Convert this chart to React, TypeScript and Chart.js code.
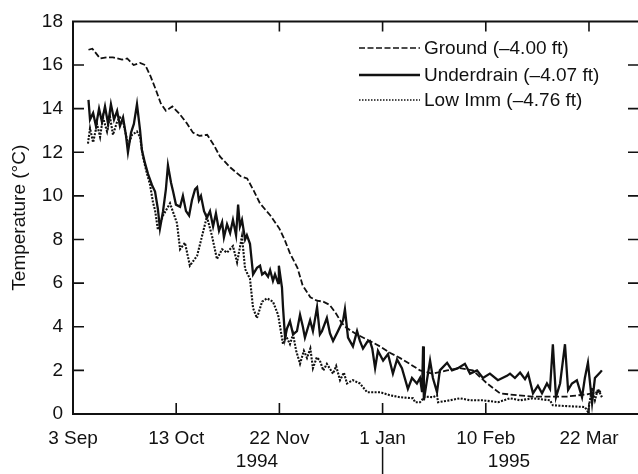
import React, { useEffect, useRef } from 'react';
import { Chart, registerables } from 'chart.js';

Chart.register(...registerables);

const tickDays = [0, 40, 80, 120, 160, 200];
const tickLabels = ['3 Sep', '13 Oct', '22 Nov', '1 Jan', '10 Feb', '22 Mar'];
const yearLabels = ['1994', '1995'];
const seriesNames = ['Ground (\u20134.00 ft)', 'Underdrain (\u20134.07 ft)', 'Low Imm (\u20134.76 ft)'];

const groundDays = [6, 7.5, 10.5, 13, 15.5, 19, 21, 23.5, 26, 28, 30, 32, 34, 36, 38.5, 41, 44, 46.5, 49, 52, 54.5, 57, 61, 65, 67.5, 70, 72.5, 76.5, 80, 82, 84, 87, 89, 92, 94.5, 97, 99.5, 102, 104, 106, 110, 115, 119, 123, 127, 130.5, 134.5, 139.5, 145, 150, 155, 160.5, 165.5, 172, 178, 186, 191.5, 199, 205];
const groundTemps = [16.7, 16.75, 16.3, 16.35, 16.35, 16.25, 16.3, 16.0, 16.1, 16.0, 15.5, 14.9, 14.25, 13.9, 14.1, 13.8, 13.35, 12.9, 12.75, 12.8, 12.35, 11.8, 11.3, 10.9, 10.8, 10.25, 9.65, 9.1, 8.5, 8.0, 7.4, 6.7, 5.9, 5.35, 5.2, 5.15, 5.0, 4.6, 4.2, 3.95, 3.65, 3.35, 3.1, 2.8, 2.55, 2.3, 2.0, 1.85, 2.0, 2.1, 2.0, 1.4, 0.95, 0.86, 0.8, 0.8, 0.8, 0.9, 1.05];

const underDays = [6, 6.6, 7.8, 8.9, 10.1, 11.2, 12.4, 13.6, 14.7, 15.9, 17.1, 18.2, 19.4, 20.5, 21.3, 22.5, 23.6, 24.8, 26, 26.7, 27.9, 29.1, 30.6, 31.8, 32.9, 33.7, 34.9, 36, 36.8, 38, 38.8, 39.9, 41.5, 42.6, 43.8, 45, 46.1, 47.3, 48.1, 48.8, 49.6, 50.8, 51.9, 53.1, 54.3, 55.4, 56.6, 57.8, 58.5, 59.7, 60.9, 62, 63.2, 64, 64.7, 65.5, 66.7, 67.4, 68.6, 69.8, 71.3, 72.5, 73.3, 74.4, 75.6, 76.4, 77.5, 78.3, 79.5, 79.8, 81, 81.4, 82.2, 82.9, 84.1, 85.3, 86.8, 88, 89.1, 89.9, 91.9, 93, 94.6, 95.7, 96.5, 98.4, 99.6, 100.8, 102.7, 104.7, 105.4, 106.6, 108.5, 110.1, 111.2, 112.4, 114, 115.1, 116, 117.1, 118.2, 120.2, 122.1, 124, 125.6, 127.5, 129.8, 131.4, 133.3, 134.5, 135.3, 135.7, 136, 137.2, 138.4, 139.5, 141.1, 142.2, 145, 146.9, 149.2, 151.9, 153.9, 156.6, 158.9, 161.6, 164.7, 168.2, 169.4, 171.3, 173.3, 175.2, 176.4, 178.3, 180.2, 181.8, 183.7, 184.9, 186, 187.2, 188.8, 190.7, 191.9, 193.4, 195.3, 197.3, 198.4, 199.6, 201.2, 202.3, 204.3, 205];
const underTemps = [14.4, 13.5, 13.8, 13.2, 14.0, 13.4, 14.1, 13.3, 14.2, 13.5, 13.9, 13.2, 13.6, 12.8, 12.0, 12.9, 13.3, 14.2, 13.0, 12.1, 11.5, 11.0, 10.5, 10.2, 9.4, 8.5, 9.3, 10.3, 11.4, 10.6, 10.2, 9.6, 9.5, 10.0, 9.3, 9.1, 9.8, 10.3, 10.4, 9.8, 10.0, 9.3, 9.0, 9.3, 8.6, 9.2, 8.4, 8.8, 8.1, 8.7, 8.3, 8.9, 8.2, 9.6, 8.6, 8.9, 8.0, 8.2, 7.8, 6.4, 6.7, 6.8, 6.4, 6.5, 6.3, 6.6, 6.1, 6.4, 6.0, 6.8, 5.8, 4.9, 3.5, 3.9, 4.25, 3.65, 3.8, 4.55, 4.0, 3.5, 4.3, 3.8, 4.9, 3.65, 3.8, 4.4, 3.7, 3.35, 3.8, 4.3, 4.8, 3.5, 3.1, 3.8, 3.35, 3.0, 3.3, 3.35, 3.0, 2.1, 2.9, 2.45, 2.75, 1.85, 2.5, 2.1, 1.15, 1.65, 1.4, 1.65, 1.0, 3.1, 0.63, 1.55, 2.45, 1.65, 1.0, 2.0, 2.35, 2.0, 2.1, 2.3, 1.85, 2.0, 1.65, 1.85, 1.55, 1.75, 1.85, 1.65, 1.9, 1.6, 1.85, 0.95, 1.3, 0.95, 1.4, 1.15, 3.2, 0.77, 1.4, 3.2, 1.1, 1.4, 1.55, 0.77, 1.65, 2.35, 0.5, 1.65, 1.9, 2.0];

const lowDays = [5.8, 6.6, 7.8, 9.3, 10.5, 11.6, 13.2, 14.3, 15.5, 17.1, 18.2, 19.4, 20.9, 21.3, 22.9, 24.8, 26, 27.1, 28.7, 29.8, 31, 31.8, 32.9, 34.9, 37.6, 40.3, 41.5, 43.4, 45.3, 48.1, 50, 51.9, 53.9, 55.8, 57.8, 59.7, 62, 63.6, 65.5, 66.7, 68.6, 69.8, 71.3, 73.3, 75.2, 77.5, 79.5, 81.4, 82.5, 84.1, 85.3, 86.5, 88, 89.5, 90.7, 92, 93, 94.5, 95.7, 97, 98.4, 100.8, 102, 103.5, 105, 106.2, 108.5, 111.2, 114, 117.8, 119, 122.9, 126.7, 131.8, 132.6, 134.5, 136.4, 139.5, 141.1, 141.5, 146.1, 150, 153.9, 158.9, 164.7, 169.4, 173.3, 178.3, 184.9, 186, 191.5, 198.4, 199.6, 201.2, 202.3, 203.5, 205];
const lowTemps = [12.4, 13.1, 12.45, 13.3, 12.7, 13.6, 12.95, 13.65, 12.8, 13.4, 13.6, 13.4, 12.6, 12.3, 12.8, 12.95, 12.7, 11.8, 11.0, 10.55, 9.7, 9.35, 8.45, 9.1, 9.66, 8.75, 7.55, 7.85, 6.8, 7.25, 8.15, 9.05, 8.15, 7.1, 7.55, 7.4, 7.7, 6.95, 8.15, 6.65, 6.2, 4.85, 4.4, 5.15, 5.3, 5.15, 4.55, 3.2, 3.6, 3.2, 3.65, 2.9, 2.3, 2.9, 2.57, 3.0, 2.1, 2.6, 2.45, 2.0, 2.3, 1.85, 2.2, 1.55, 1.9, 1.4, 1.55, 1.4, 1.0, 1.0, 1.0, 0.86, 0.77, 0.72, 0.54, 0.54, 0.8, 0.77, 0.86, 0.54, 0.63, 0.72, 0.63, 0.63, 0.54, 0.72, 0.63, 0.72, 0.63, 0.4, 0.36, 0.32, 0.1, 1.2, 0.63, 1.15, 0.77];

const FONT = "'Liberation Sans', Arial, Helvetica, sans-serif";
const INK = '#111';
const dashes: number[][] = [[6, 2.5], [], [2, 1.4]];
const widths = [1.8, 2.3, 2.1];

const toPts = (xs: number[], ys: number[]) => xs.map((x, i) => ({ x, y: ys[i] }));

const decorPlugin = {
  id: 'decor',
  afterDatasetsDraw(chart: any) {
    const { ctx, chartArea: a, scales } = chart;
    const xs = scales.x;
    const ys = scales.y;
    ctx.save();
    ctx.strokeStyle = INK;
    ctx.setLineDash([]);
    ctx.lineWidth = 2;
    ctx.beginPath();
    ctx.moveTo(a.right + 4, a.top);
    ctx.lineTo(a.left, a.top);
    ctx.lineTo(a.left, a.bottom);
    ctx.lineTo(a.right + 4, a.bottom);
    ctx.stroke();
    ctx.lineWidth = 1.6;
    ctx.beginPath();
    for (let v = 2; v <= 16; v += 2) {
      const py = ys.getPixelForValue(v);
      ctx.moveTo(a.left, py);
      ctx.lineTo(a.left + 11, py);
      ctx.moveTo(a.right, py);
      ctx.lineTo(a.right - 10, py);
    }
    tickDays.slice(1).forEach((d) => {
      const px = xs.getPixelForValue(d);
      ctx.moveTo(px, a.top);
      ctx.lineTo(px, a.top + 10);
      ctx.moveTo(px, a.bottom);
      ctx.lineTo(px, a.bottom - 11);
    });
    ctx.stroke();
    // year row
    const jan = xs.getPixelForValue(120);
    ctx.lineWidth = 1.5;
    ctx.beginPath();
    ctx.moveTo(jan, 447);
    ctx.lineTo(jan, 474);
    ctx.stroke();
    ctx.fillStyle = INK;
    ctx.font = `19px ${FONT}`;
    ctx.textAlign = 'center';
    ctx.textBaseline = 'middle';
    ctx.fillText(yearLabels[0], 257, 462);
    ctx.fillText(yearLabels[1], 509, 462);
    // legend
    const rows = [48, 75, 100];
    ctx.textAlign = 'left';
    seriesNames.forEach((name, i) => {
      ctx.lineWidth = i === 1 ? 2.4 : 1.6;
      ctx.setLineDash(i === 2 ? [1.5, 1.5] : dashes[i]);
      ctx.beginPath();
      ctx.moveTo(359, rows[i]);
      ctx.lineTo(420, rows[i]);
      ctx.stroke();
      ctx.setLineDash([]);
      ctx.fillText(name, 424, rows[i] + 1);
    });
    ctx.restore();
  },
};

export default function App() {
  const ref = useRef<HTMLCanvasElement>(null);
  useEffect(() => {
    if (!ref.current) return;
    const series = [
      toPts(lowDays, lowTemps),
      toPts(underDays, underTemps),
      toPts(groundDays, groundTemps),
    ];
    const order = [2, 1, 0];
    const chart = new Chart(ref.current, {
      type: 'line',
      data: {
        datasets: series.map((pts, k) => ({
          label: seriesNames[order[k]],
          data: pts,
          borderColor: INK,
          borderWidth: widths[order[k]],
          borderDash: dashes[order[k]],
          pointRadius: 0,
          tension: 0,
          fill: false,
        })),
      },
      options: {
        animation: false,
        responsive: false,
        devicePixelRatio: 1,
        layout: { padding: { left: 8, top: 15, right: 0, bottom: 0 } },
        plugins: { legend: { display: false }, tooltip: { enabled: false } },
        scales: {
          x: {
            type: 'linear',
            min: 0,
            max: 219,
            grid: { display: false, drawTicks: false },
            border: { display: false },
            afterBuildTicks: (s: any) => {
              s.ticks = tickDays.map((v) => ({ value: v }));
            },
            afterFit: (s: any) => {
              s.height = 60;
            },
            ticks: {
              autoSkip: false,
              maxRotation: 0,
              padding: 13,
              color: INK,
              font: { family: FONT, size: 19 },
              callback: (v: any) => tickLabels[tickDays.indexOf(Number(v))] ?? '',
            },
          },
          y: {
            min: 0,
            max: 18,
            grid: { display: false, drawTicks: false },
            border: { display: false },
            afterFit: (s: any) => {
              s.width = 65;
            },
            ticks: {
              stepSize: 2,
              padding: 10,
              color: INK,
              font: { family: FONT, size: 19 },
            },
            title: {
              display: true,
              text: 'Temperature (\u00B0C)',
              color: INK,
              font: { family: FONT, size: 19 },
              padding: 0,
            },
          },
        },
      },
      plugins: [decorPlugin],
    });
    return () => chart.destroy();
  }, []);
  return (
    <div style={{ position: 'absolute', left: 0, top: 0, width: 638, height: 474, background: '#fff' }}>
      <canvas ref={ref} width={638} height={474} style={{ display: 'block', width: 638, height: 474 }} />
    </div>
  );
}
